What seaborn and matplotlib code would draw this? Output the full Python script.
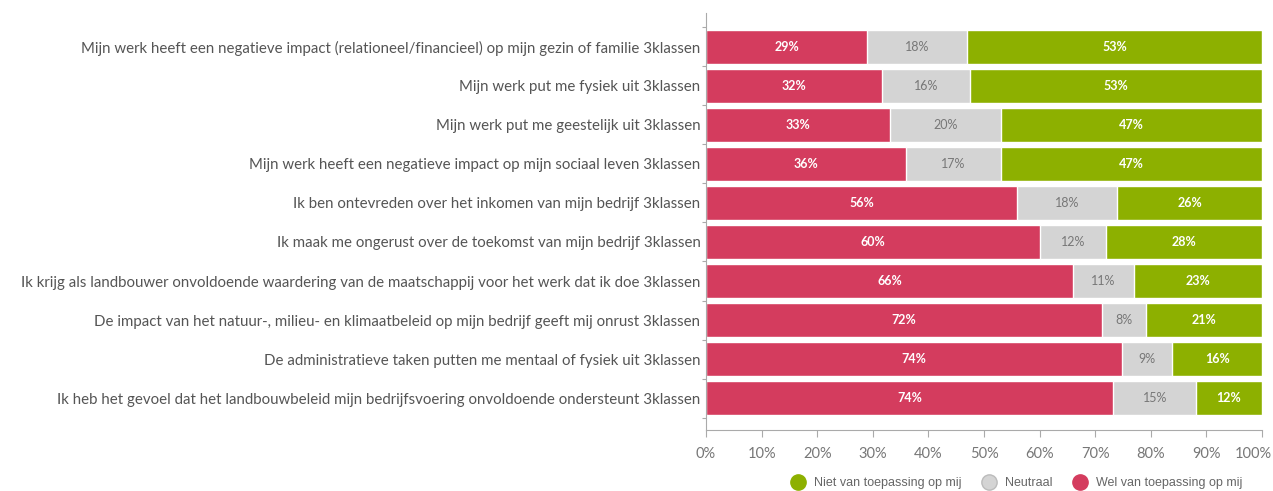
import numpy as np
import matplotlib
matplotlib.use('Agg')
import matplotlib.pyplot as plt
import matplotlib.transforms as mtransforms
from matplotlib.lines import Line2D
import seaborn as sns

sns.set_theme(style='white')
plt.rcParams['font.family'] = ['Lato', 'DejaVu Sans']

statements = [
    'Mijn werk heeft een negatieve impact (relationeel/financieel) op mijn gezin of familie 3klassen',
    'Mijn werk put me fysiek uit 3klassen',
    'Mijn werk put me geestelijk uit 3klassen',
    'Mijn werk heeft een negatieve impact op mijn sociaal leven 3klassen',
    'Ik ben ontevreden over het inkomen van mijn bedrijf 3klassen',
    'Ik maak me ongerust over de toekomst van mijn bedrijf 3klassen',
    'Ik krijg als landbouwer onvoldoende waardering van de maatschappij voor het werk dat ik doe 3klassen',
    'De impact van het natuur-, milieu- en klimaatbeleid op mijn bedrijf geeft mij onrust 3klassen',
    'De administratieve taken putten me mentaal of fysiek uit 3klassen',
    'Ik heb het gevoel dat het landbouwbeleid mijn bedrijfsvoering onvoldoende ondersteunt 3klassen',
]
wel = np.array([29, 32, 33, 36, 56, 60, 66, 72, 74, 74])
neutraal = np.array([18, 16, 20, 17, 18, 12, 11, 8, 9, 15])
niet = np.array([53, 53, 47, 47, 26, 28, 23, 21, 16, 12])

legend_labels = ['Niet van toepassing op mij', 'Neutraal', 'Wel van toepassing op mij']
c_wel = '#d43c5e'
c_neu = '#d4d4d4'
c_niet = '#8db000'

total = wel + neutraal + niet
wel_s = wel / total * 100
neu_s = neutraal / total * 100
niet_s = niet / total * 100

fig = plt.figure(figsize=(12.73, 4.91), dpi=100)
ax = fig.add_axes([0.5546, 0.1242, 0.4368, 0.8493])

bw = 0.85
sns.barplot(x=wel_s + neu_s + niet_s, y=statements, orient='h', color=c_niet,
            width=bw, edgecolor='white', linewidth=1, saturation=1, ax=ax)
sns.barplot(x=wel_s + neu_s, y=statements, orient='h', color=c_neu,
            width=bw, edgecolor='white', linewidth=1, saturation=1, ax=ax)
sns.barplot(x=wel_s, y=statements, orient='h', color=c_wel,
            width=bw, edgecolor='white', linewidth=1, saturation=1, ax=ax)

for i in range(len(statements)):
    ax.text(wel_s[i] / 2, i, f'{wel[i]}%', ha='center', va='center',
            color='white', fontsize=9, fontweight='bold')
    ax.text(wel_s[i] + neu_s[i] / 2, i, f'{neutraal[i]}%', ha='center', va='center',
            color='#777777', fontsize=9)
    ax.text(wel_s[i] + neu_s[i] + niet_s[i] / 2, i, f'{niet[i]}%', ha='center', va='center',
            color='white', fontsize=9, fontweight='bold')

ax.set_xlim(0, 100)
ax.set_ylim(9.82, -0.87)
ax.set_xticks(np.arange(0, 101, 10))
ax.set_xticklabels([f'{v}%' for v in range(0, 101, 10)])
ax.set_xlabel('')
ax.set_ylabel('')

ax.set_yticks(np.arange(-0.5, 10, 1), minor=True)
ax.tick_params(axis='y', which='major', length=0, pad=4, labelsize=10.8, labelcolor='#555555')
ax.tick_params(axis='y', which='minor', left=True, length=3, color='#aaaaaa', width=0.8)
ax.tick_params(axis='x', bottom=True, length=5, color='#aaaaaa', width=0.8,
               labelsize=10.5, labelcolor='#777777', pad=7)
# nudge the last tick label a little left so it stays inside the figure
last = ax.get_xticklabels()[-1]
last.set_transform(last.get_transform() + mtransforms.ScaledTranslation(-9 / 100, 0, fig.dpi_scale_trans))

sns.despine(ax=ax, top=True, right=True)
for side in ['left', 'bottom']:
    ax.spines[side].set_color('#aaaaaa')
    ax.spines[side].set_linewidth(0.8)

handles = [
    Line2D([], [], marker='o', linestyle='', markersize=11, markerfacecolor=c_niet, markeredgecolor=c_niet),
    Line2D([], [], marker='o', linestyle='', markersize=11, markerfacecolor=c_neu, markeredgecolor='#bbbbbb'),
    Line2D([], [], marker='o', linestyle='', markersize=11, markerfacecolor=c_wel, markeredgecolor=c_wel),
]
fig.legend(handles, legend_labels, loc='center right', bbox_to_anchor=(0.985, 0.016),
           ncol=3, frameon=False, labelcolor='#666666',
           handletextpad=0.3, columnspacing=1.2, prop={'family': 'Liberation Sans', 'size': 9})

fig.savefig('out.png', dpi=100)
